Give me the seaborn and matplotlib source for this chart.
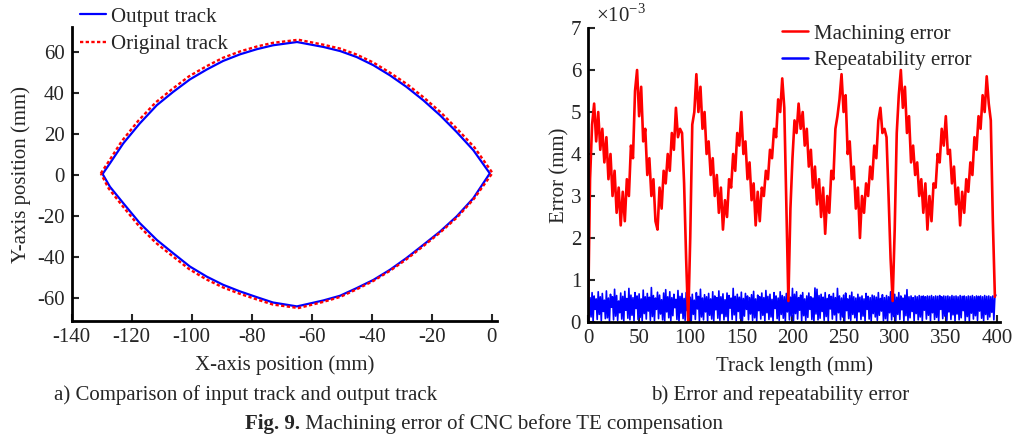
import numpy as np
import pandas as pd
import matplotlib
matplotlib.use("Agg")
import matplotlib.pyplot as plt
import seaborn as sns

# ---------------- data: panel a) (closed lens-shaped tracks) ----------------
output_x = [-129.7, -127.25, -122.8, -117.3, -111.6, -106.2, -100.6, -95.0, -89.5, -83.9, -78.3, -72.9,
            -64.9, -56.1, -50.5, -45.0, -39.4, -33.9, -28.4, -22.8, -17.2, -11.7, -6.1, -0.6,
            -6.1, -11.7, -17.2, -22.8, -28.4, -33.9, -39.4, -45.0, -50.5, -56.1, -64.9, -72.9,
            -78.3, -83.9, -89.5, -95.0, -100.6, -106.2, -111.6, -117.3, -122.8, -127.25, -129.7]
output_y = [0.5, 5.7, 15.4, 25.1, 34.0, 40.4, 46.5, 51.3, 55.5, 58.7, 61.2, 63.1,
            64.7, 62.3, 60.3, 57.4, 53.4, 48.5, 42.9, 36.4, 29.1, 21.0, 12.1, 0.8,
            -11.3, -20.2, -27.5, -34.0, -40.4, -46.1, -51.0, -55.0, -58.7, -61.0, -63.9, -62.0,
            -59.4, -56.6, -53.4, -49.4, -44.5, -38.0, -31.6, -23.4, -13.7, -5.7, 0.5]

original_x = [-130.3, -127.7, -123.3, -117.8, -112.0, -106.5, -100.9, -95.2, -89.6, -83.9, -78.3, -72.9,
              -64.4, -56.1, -50.5, -45.0, -39.4, -33.9, -28.2, -22.6, -16.9, -11.4, -5.7, 0.3,
              -5.9, -11.5, -17.1, -22.7, -28.3, -33.9, -39.4, -45.0, -50.5, -56.1, -64.4, -72.9,
              -78.3, -83.9, -89.5, -95.2, -100.8, -106.5, -112.0, -117.7, -123.2, -127.7, -130.3]
original_y = [0.8, 6.5, 16.5, 26.4, 35.3, 41.8, 48.0, 52.8, 57.0, 60.1, 62.5, 64.3,
              65.8, 63.4, 61.5, 58.6, 54.7, 49.8, 44.2, 37.7, 30.4, 22.3, 13.4, 1.0,
              -11.6, -20.6, -27.9, -34.5, -40.9, -46.6, -51.5, -55.6, -59.3, -61.7, -64.7, -63.0,
              -60.5, -57.8, -54.7, -50.7, -45.8, -39.3, -32.9, -24.6, -14.8, -6.5, 0.8]

# ---------------- data: panel b) (errors, in 1e-3 mm) ----------------
track_length_mach = list(range(0, 400, 2))
machining_error = [
    0.0, 3.4, 4.7, 5.2, 4.3, 5.0, 4.1, 4.6, 3.8, 4.4,
    3.4, 4.0, 3.0, 3.6, 2.6, 3.2, 2.3, 3.1, 2.4, 3.4,
    3.0, 4.2, 3.9, 5.5, 6.0, 4.9, 5.6, 4.3, 4.6, 3.5,
    3.9, 3.0, 3.4, 2.4, 2.2, 3.2, 2.7, 3.6, 3.3, 4.0,
    3.6, 4.5, 4.1, 5.1, 4.4, 4.6, 4.5, 3.3, 1.5, 0.0,
    2.0, 4.7, 5.0, 5.9, 5.0, 5.6, 4.6, 5.0, 4.0, 4.3,
    3.5, 3.9, 3.0, 3.5, 2.6, 3.2, 2.2, 2.9, 2.5, 3.4,
    3.2, 4.0, 3.6, 4.5, 4.2, 5.0, 4.0, 4.3, 3.4, 3.8,
    2.9, 3.3, 2.3, 3.1, 2.4, 3.2, 3.0, 3.6, 3.4, 4.1,
    3.9, 4.6, 4.4, 5.3, 5.0, 5.8, 5.1, 2.8, 0.5, 2.7,
    3.9, 4.8, 4.5, 5.2, 4.6, 5.0, 4.2, 4.6, 3.7, 4.1,
    3.2, 3.7, 2.8, 3.4, 2.5, 3.2, 2.1, 3.0, 2.6, 3.6,
    3.4, 4.6, 4.9, 5.3, 5.9, 5.0, 5.4, 4.0, 4.3, 3.4,
    3.7, 2.7, 3.2, 2.0, 3.0, 2.6, 3.3, 3.0, 3.7, 3.4,
    4.2, 3.9, 4.8, 5.1, 4.5, 4.6, 4.4, 3.0, 1.5, 0.5,
    2.2, 4.5, 5.4, 6.0, 5.1, 5.6, 4.5, 4.9, 3.8, 4.2,
    3.5, 3.8, 3.0, 3.4, 2.6, 3.3, 2.2, 3.0, 2.4, 3.3,
    3.2, 4.0, 3.8, 4.6, 4.2, 4.9, 4.0, 4.1, 3.3, 3.7,
    2.8, 3.2, 2.3, 3.1, 2.6, 3.4, 3.1, 3.8, 3.5, 4.4,
    4.1, 4.9, 4.6, 5.4, 5.0, 5.85, 5.2, 4.8, 2.4, 0.6,
]
track_length_rep = list(range(0, 400, 1))
repeatability_error = [
    0.66, 0.04, 0.58, 0.12, 0.70, 0.02, 0.62, 0.30, 0.55, 0.06,
    0.72, 0.18, 0.60, 0.03, 0.68, 0.25, 0.52, 0.08, 0.74, 0.10,
    0.57, 0.02, 0.66, 0.35, 0.60, 0.05, 0.78, 0.14, 0.63, 0.04,
    0.50, 0.22, 0.69, 0.07, 0.61, 0.02, 0.73, 0.28, 0.56, 0.09,
    0.80, 0.05, 0.64, 0.16, 0.58, 0.03, 0.70, 0.32, 0.62, 0.06,
    0.67, 0.11, 0.55, 0.02, 0.76, 0.20, 0.60, 0.07, 0.68, 0.26,
    0.59, 0.04, 0.82, 0.13, 0.63, 0.03, 0.57, 0.30, 0.71, 0.08,
    0.64, 0.19, 0.53, 0.05, 0.69, 0.02, 0.77, 0.24, 0.60, 0.10,
    0.72, 0.03, 0.58, 0.15, 0.66, 0.34, 0.54, 0.06, 0.75, 0.02,
    0.61, 0.21, 0.68, 0.08, 0.56, 0.04, 0.70, 0.27, 0.63, 0.11,
    0.59, 0.03, 0.66, 0.18, 0.52, 0.06, 0.70, 0.31, 0.61, 0.02,
    0.78, 0.12, 0.57, 0.05, 0.65, 0.24, 0.60, 0.03, 0.68, 0.16,
    0.55, 0.07, 0.72, 0.02, 0.62, 0.29, 0.58, 0.09, 0.74, 0.04,
    0.60, 0.20, 0.67, 0.05, 0.53, 0.13, 0.69, 0.02, 0.63, 0.33,
    0.57, 0.06, 0.80, 0.17, 0.61, 0.03, 0.66, 0.25, 0.59, 0.08,
    0.71, 0.02, 0.56, 0.14, 0.68, 0.30, 0.62, 0.05, 0.58, 0.19,
    0.65, 0.04, 0.73, 0.10, 0.55, 0.02, 0.64, 0.27, 0.60, 0.07,
    0.69, 0.16, 0.58, 0.03, 0.75, 0.22, 0.61, 0.06, 0.66, 0.12,
    0.54, 0.02, 0.70, 0.32, 0.62, 0.08, 0.57, 0.04, 0.72, 0.18,
    0.63, 0.09, 0.60, 0.02, 0.68, 0.24, 0.76, 0.05, 0.59, 0.14,
    0.80, 0.03, 0.66, 0.20, 0.72, 0.07, 0.58, 0.28, 0.64, 0.02,
    0.70, 0.15, 0.55, 0.04, 0.62, 0.11, 0.69, 0.30, 0.60, 0.06,
    0.57, 0.02, 0.81, 0.19, 0.78, 0.05, 0.63, 0.09, 0.66, 0.25,
    0.59, 0.04, 0.70, 0.13, 0.56, 0.02, 0.65, 0.31, 0.61, 0.07,
    0.68, 0.17, 0.58, 0.03, 0.80, 0.22, 0.62, 0.05, 0.57, 0.12,
    0.64, 0.02, 0.69, 0.27, 0.55, 0.08, 0.63, 0.04, 0.71, 0.18,
    0.60, 0.10, 0.57, 0.02, 0.66, 0.24, 0.59, 0.06, 0.62, 0.14,
    0.55, 0.03, 0.68, 0.30, 0.61, 0.07, 0.58, 0.02, 0.64, 0.20,
    0.62, 0.12, 0.59, 0.04, 0.70, 0.16, 0.56, 0.26, 0.65, 0.03,
    0.58, 0.08, 0.63, 0.02, 0.60, 0.22, 0.72, 0.05, 0.61, 0.13,
    0.66, 0.03, 0.59, 0.18, 0.70, 0.06, 0.62, 0.29, 0.57, 0.02,
    0.64, 0.15, 0.77, 0.04, 0.60, 0.10, 0.62, 0.25, 0.58, 0.03,
    0.62, 0.20, 0.60, 0.05, 0.63, 0.12, 0.61, 0.02, 0.62, 0.28,
    0.60, 0.07, 0.62, 0.16, 0.61, 0.03, 0.63, 0.22, 0.60, 0.06,
    0.62, 0.11, 0.61, 0.02, 0.63, 0.30, 0.60, 0.08, 0.62, 0.14,
    0.61, 0.04, 0.62, 0.24, 0.60, 0.06, 0.63, 0.17, 0.61, 0.02,
    0.62, 0.19, 0.60, 0.05, 0.63, 0.10, 0.61, 0.27, 0.62, 0.03,
    0.60, 0.13, 0.62, 0.02, 0.61, 0.21, 0.63, 0.07, 0.60, 0.15,
    0.62, 0.04, 0.61, 0.26, 0.62, 0.09, 0.60, 0.03, 0.63, 0.18,
    0.61, 0.06, 0.62, 0.12, 0.60, 0.23, 0.62, 0.05, 0.61, 0.64,
]

x_ticks_a = [-140, -120, -100, -80, -60, -40, -20, 0]
y_ticks_a = [-60, -40, -20, 0, 20, 40, 60]
x_ticks_b = [0, 50, 100, 150, 200, 250, 300, 350, 400]
y_ticks_b = [0, 1, 2, 3, 4, 5, 6, 7]

# ---------------- style ----------------
sns.set_style("ticks")
plt.rcParams["font.family"] = ["Liberation Serif", "DejaVu Serif"]
plt.rcParams["mathtext.fontset"] = "custom"
plt.rcParams["mathtext.rm"] = "Liberation Serif"
plt.rcParams["axes.unicode_minus"] = False
FS = 15

fig = plt.figure(figsize=(10.27, 4.36), dpi=100)
W, H = 1027, 436
def ax_rect(l, r, t, b):
    return [l / W, 1 - b / H, (r - l) / W, (b - t) / H]

ax1 = fig.add_axes(ax_rect(71.7, 497, 27, 321))
ax2 = fig.add_axes(ax_rect(588, 1000, 28, 322))

# panel a
df_out = pd.DataFrame({"x": output_x, "y": output_y})
df_orig = pd.DataFrame({"x": original_x, "y": original_y})
sns.lineplot(data=df_out, x="x", y="y", sort=False, estimator=None, ax=ax1,
             color="#0000ff", linewidth=1.6, label="Output track")
sns.lineplot(data=df_orig, x="x", y="y", sort=False, estimator=None, ax=ax1,
             color="#ff0000", linewidth=1.7, linestyle=(0, (1.4, 1.0)), label="Original track")
ax1.set_xlim(-140, 1.8)
ax1.set_ylim(-71, 72)
ax1.set_xticks(x_ticks_a)
ax1.set_yticks(y_ticks_a)
ax1.set_xlabel("X-axis position (mm)", fontsize=FS, labelpad=6)
ax1.set_ylabel("Y-axis position (mm)", fontsize=FS, labelpad=4)
ax1.legend(loc="upper left", bbox_to_anchor=(80 / W, 1 - 7 / H), bbox_transform=fig.transFigure,
           frameon=False, fontsize=FS, handlelength=1.25, handletextpad=0.25,
           labelspacing=0.4, borderpad=0, borderaxespad=0)

# panel b
df_mach = pd.DataFrame({"len": track_length_mach, "err": np.array(machining_error) * 1e-3})
df_rep = pd.DataFrame({"len": track_length_rep, "err": np.array(repeatability_error) * 1e-3})
sns.lineplot(data=df_rep, x="len", y="err", ax=ax2, color="#0000ff", linewidth=1.2,
             estimator=None, label="Repeatability error")
sns.lineplot(data=df_mach, x="len", y="err", ax=ax2, color="#ff0000", linewidth=1.9,
             estimator=None, label="Machining error")
ax2.set_xlim(0, 403)
ax2.set_ylim(0, 7e-3)
ax2.set_xticks(x_ticks_b)
ax2.set_yticks([v * 1e-3 for v in y_ticks_b])
ax2.set_yticklabels([str(v) for v in y_ticks_b])
ax2.set_xlabel("Track length (mm)", fontsize=FS, labelpad=6)
ax2.set_ylabel("Error (mm)", fontsize=FS, labelpad=1)
ax2.text(0.02, 1.005, r"$\times10^{-3}$", transform=ax2.transAxes, fontsize=FS,
         ha="left", va="bottom")
h, l = ax2.get_legend_handles_labels()
leg2 = ax2.legend([h[1], h[0]], [l[1], l[0]], loc="upper left",
                  bbox_to_anchor=(782 / W, 1 - 24 / H), bbox_transform=fig.transFigure,
                  frameon=False, fontsize=FS, handlelength=1.25, handletextpad=0.3,
                  labelspacing=0.35, borderpad=0, borderaxespad=0)
for ln in leg2.get_lines():
    ln.set_linewidth(1.8)

for ax in (ax1, ax2):
    sns.despine(ax=ax)
    ax.tick_params(direction="in", length=5, width=1.5, labelsize=FS, pad=5)
    for s in ("left", "bottom"):
        ax.spines[s].set_linewidth(2)
        ax.spines[s].set_color("black")

# captions
fig.text(246 / W, 1 - 395 / H, "a) Comparison of input track and output track",
         ha="center", va="center", fontsize=FS)
fig.text(780 / W, 1 - 395 / H, "b) Error and repeatability error",
         ha="center", va="center", fontsize=FS)
fig.text(300 / W, 1 - 424 / H, "Fig. 9.", ha="right", va="center", fontsize=FS,
         fontweight="bold")
fig.text(300 / W, 1 - 424 / H, " Machining error of CNC before TE compensation",
         ha="left", va="center", fontsize=FS)

fig.savefig("out.png", dpi=100)
